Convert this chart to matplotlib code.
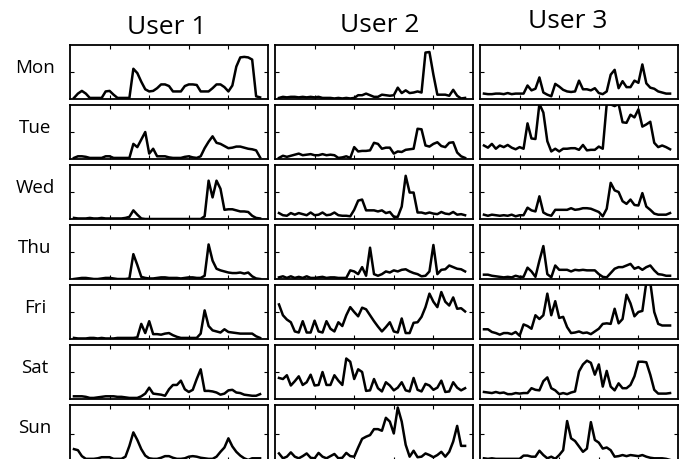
import numpy as np
import matplotlib
matplotlib.use('Agg')
import matplotlib.pyplot as plt

plt.rcParams['font.family'] = ['Open Sans', 'DejaVu Sans']

dies = ['Mon', 'Tue', 'Wed', 'Thu', 'Fri', 'Sat', 'Sun']
usuaris = ['User 1', 'User 2', 'User 3']

# User 1
mon_u1 = [0.02,0.1,0.15,0.1,0.02,0.02,0.02,0.02,0.14,0.15,0.08,0.02,0.02,0.02,0.02,0.56,0.48,0.32,0.18,0.14,0.15,0.2,0.27,0.27,0.24,0.14,0.14,0.14,0.24,0.27,0.27,0.26,0.14,0.14,0.14,0.2,0.27,0.27,0.22,0.14,0.25,0.6,0.77,0.78,0.77,0.73,0.05,0.03]
tue_u1 = [0.02,0.05,0.05,0.04,0.02,0.02,0.02,0.02,0.05,0.05,0.02,0.02,0.02,0.02,0.02,0.28,0.22,0.36,0.5,0.1,0.19,0.05,0.05,0.05,0.03,0.02,0.02,0.02,0.04,0.05,0.03,0.02,0.05,0.2,0.32,0.42,0.3,0.28,0.24,0.2,0.21,0.23,0.23,0.21,0.19,0.18,0.16,0.03]
wed_u1 = [0.02,0.01,0.01,0.01,0.02,0.01,0.01,0.02,0.01,0.01,0.01,0.01,0.01,0.02,0.04,0.16,0.08,0.01,0,0,0,0,0,0,0,0,0,0,0,0,0,0,0,0.05,0.71,0.4,0.71,0.56,0.17,0.18,0.18,0.16,0.14,0.14,0.13,0.06,0.02,0.01]
thu_u1 = [0.0,0.01,0.02,0.02,0.01,0.0,0.0,0.01,0.02,0.02,0.01,0.0,0.0,0.0,0.01,0.46,0.26,0.04,0.02,0.01,0.01,0.02,0.03,0.03,0.02,0.02,0.02,0.01,0.02,0.03,0.03,0.02,0.02,0.06,0.64,0.34,0.19,0.16,0.14,0.12,0.11,0.11,0.12,0.1,0.12,0.05,0.01,0.0]
fri_u1 = [0.02,0.01,0.01,0.01,0.02,0.02,0.01,0.02,0.01,0.01,0.01,0.02,0.02,0.02,0.02,0.02,0.03,0.28,0.11,0.33,0.09,0.09,0.08,0.1,0.11,0.07,0.04,0.02,0.02,0.02,0.02,0.02,0.1,0.53,0.24,0.16,0.14,0.12,0.18,0.13,0.12,0.11,0.1,0.1,0.1,0.1,0.05,0.02]
sat_u1 = [0.05,0.05,0.05,0.04,0.02,0.02,0.03,0.04,0.05,0.05,0.05,0.04,0.04,0.03,0.02,0.02,0.02,0.05,0.1,0.21,0.1,0.09,0.08,0.06,0.18,0.26,0.26,0.34,0.18,0.13,0.17,0.37,0.55,0.15,0.15,0.14,0.12,0.08,0.1,0.16,0.17,0.12,0.11,0.08,0.07,0.06,0.06,0.09]
sun_u1 = [0.22,0.2,0.09,0.04,0.04,0.04,0.05,0.07,0.07,0.07,0.04,0.04,0.04,0.08,0.28,0.53,0.39,0.22,0.1,0.05,0.04,0.04,0.06,0.09,0.09,0.06,0.04,0.04,0.05,0.08,0.09,0.08,0.06,0.05,0.04,0.04,0.08,0.17,0.25,0.42,0.27,0.17,0.1,0.05,0.02,0.05,0.05,0.05]

# User 2
mon_u2 = [0.02,0.04,0.03,0.04,0.04,0.03,0.04,0.03,0.04,0.03,0.04,0.02,0.02,0.02,0.01,0.02,0.01,0.02,0.01,0.02,0.07,0.07,0.1,0.07,0.04,0.04,0.08,0.07,0.06,0.07,0.21,0.11,0.16,0.11,0.12,0.14,0.12,0.86,0.87,0.45,0.08,0.08,0.08,0.06,0.17,0.06,0.01,0.02]
tue_u2 = [0.02,0.06,0.04,0.06,0.08,0.1,0.07,0.08,0.09,0.07,0.07,0.09,0.07,0.08,0.07,0.02,0.03,0.05,0.02,0.22,0.14,0.15,0.15,0.16,0.3,0.28,0.19,0.21,0.21,0.1,0.14,0.13,0.17,0.18,0.19,0.56,0.55,0.25,0.23,0.28,0.31,0.24,0.22,0.3,0.31,0.12,0.05,0.02]
wed_u2 = [0.11,0.07,0.06,0.11,0.08,0.11,0.09,0.07,0.12,0.07,0.08,0.12,0.07,0.08,0.12,0.07,0.06,0.06,0.05,0.17,0.34,0.36,0.16,0.16,0.16,0.14,0.16,0.11,0.13,0.04,0.04,0.23,0.8,0.49,0.49,0.12,0.12,0.1,0.12,0.1,0.09,0.13,0.1,0.09,0.13,0.08,0.09,0.07]
thu_u2 = [0.03,0.05,0.02,0.05,0.02,0.04,0.02,0.05,0.02,0.02,0.03,0.04,0.02,0.03,0.03,0.02,0.02,0.02,0.16,0.14,0.09,0.22,0.06,0.58,0.09,0.06,0.09,0.14,0.12,0.16,0.14,0.17,0.18,0.14,0.11,0.09,0.05,0.06,0.14,0.63,0.09,0.17,0.18,0.25,0.22,0.19,0.18,0.14]
fri_u2 = [0.64,0.44,0.36,0.31,0.14,0.12,0.33,0.12,0.12,0.34,0.14,0.12,0.33,0.19,0.14,0.31,0.24,0.44,0.59,0.5,0.42,0.58,0.55,0.44,0.33,0.23,0.14,0.22,0.31,0.14,0.12,0.38,0.11,0.11,0.3,0.31,0.41,0.59,0.84,0.69,0.59,0.87,0.69,0.62,0.77,0.56,0.57,0.51]
sat_u2 = [0.39,0.37,0.44,0.25,0.33,0.42,0.26,0.31,0.45,0.25,0.26,0.5,0.26,0.26,0.44,0.34,0.26,0.75,0.69,0.37,0.55,0.5,0.15,0.16,0.37,0.2,0.14,0.31,0.25,0.16,0.21,0.31,0.16,0.14,0.39,0.17,0.14,0.28,0.25,0.17,0.21,0.34,0.13,0.14,0.31,0.21,0.16,0.2]
sun_u2 = [0.14,0.05,0.08,0.16,0.08,0.05,0.09,0.14,0.06,0.05,0.15,0.08,0.05,0.09,0.13,0.05,0.06,0.15,0.09,0.08,0.25,0.41,0.45,0.48,0.59,0.59,0.56,0.8,0.73,0.51,0.99,0.73,0.3,0.08,0.19,0.07,0.08,0.14,0.11,0.07,0.11,0.17,0.08,0.17,0.36,0.65,0.28,0.28]

# User 3
mon_u3 = [0.1,0.09,0.09,0.1,0.1,0.09,0.11,0.09,0.1,0.1,0.1,0.25,0.16,0.19,0.4,0.12,0.08,0.05,0.28,0.23,0.17,0.14,0.13,0.14,0.34,0.18,0.18,0.16,0.2,0.11,0.09,0.14,0.45,0.54,0.2,0.33,0.22,0.22,0.34,0.3,0.64,0.29,0.21,0.19,0.14,0.12,0.1,0.1]
tue_u3 = [0.25,0.21,0.28,0.19,0.25,0.22,0.26,0.21,0.18,0.22,0.19,0.66,0.38,0.37,1.02,0.86,0.33,0.14,0.19,0.14,0.19,0.19,0.2,0.2,0.17,0.26,0.16,0.17,0.17,0.23,0.19,1.02,1.01,0.98,1.02,0.68,0.67,0.82,0.77,0.92,0.6,0.64,0.69,0.3,0.22,0.25,0.22,0.18]
wed_u3 = [0.08,0.06,0.08,0.07,0.06,0.07,0.06,0.08,0.05,0.07,0.07,0.21,0.16,0.14,0.42,0.12,0.08,0.06,0.17,0.17,0.17,0.17,0.2,0.17,0.18,0.2,0.2,0.19,0.16,0.13,0.05,0.19,0.67,0.53,0.5,0.33,0.28,0.36,0.26,0.25,0.48,0.23,0.17,0.1,0.08,0.08,0.08,0.11]
thu_u3 = [0.08,0.08,0.06,0.05,0.04,0.03,0.04,0.03,0.06,0.04,0.04,0.21,0.14,0.04,0.34,0.61,0.09,0.03,0.25,0.17,0.17,0.17,0.14,0.17,0.16,0.17,0.16,0.16,0.16,0.09,0.04,0.03,0.11,0.19,0.22,0.22,0.25,0.28,0.19,0.22,0.17,0.22,0.25,0.16,0.09,0.08,0.06,0.06]
fri_u3 = [0.18,0.18,0.13,0.11,0.08,0.11,0.11,0.09,0.13,0.06,0.27,0.24,0.19,0.44,0.37,0.44,0.84,0.44,0.7,0.39,0.41,0.22,0.11,0.12,0.14,0.11,0.12,0.09,0.14,0.19,0.28,0.29,0.28,0.56,0.29,0.37,0.82,0.66,0.42,0.5,0.52,1.05,1.05,0.5,0.28,0.25,0.25,0.25]
sat_u3 = [0.13,0.12,0.11,0.13,0.11,0.12,0.09,0.09,0.11,0.1,0.11,0.11,0.2,0.17,0.16,0.33,0.4,0.2,0.16,0.09,0.11,0.09,0.12,0.14,0.51,0.64,0.71,0.67,0.45,0.64,0.23,0.52,0.23,0.16,0.29,0.2,0.2,0.26,0.42,0.69,0.69,0.68,0.45,0.17,0.1,0.1,0.1,0.11]
sun_u3 = [0.05,0.04,0.05,0.04,0.04,0.04,0.04,0.04,0.04,0.04,0.1,0.1,0.08,0.08,0.19,0.11,0.05,0.08,0.04,0.11,0.2,0.74,0.42,0.37,0.27,0.17,0.23,0.72,0.39,0.34,0.23,0.25,0.2,0.08,0.09,0.11,0.09,0.11,0.1,0.09,0.11,0.08,0.06,0.05,0.05,0.05,0.04,0.02]

dades = [[mon_u1, mon_u2, mon_u3],
         [tue_u1, tue_u2, tue_u3],
         [wed_u1, wed_u2, wed_u3],
         [thu_u1, thu_u2, thu_u3],
         [fri_u1, fri_u2, fri_u3],
         [sat_u1, sat_u2, sat_u3],
         [sun_u1, sun_u2, sun_u3]]

W, H = 683.0, 459.0
fig = plt.figure(figsize=(W / 100, H / 100), dpi=100)

# layout in pixels (top-left origin)
col_x = [70, 275, 480]
ample = 198
fila_y0 = 45
pas = 60
alt = 54

for i, dia in enumerate(dies):
    top = fila_y0 + pas * i
    h = alt if i < 6 else 56
    for j in range(3):
        ax = fig.add_axes([col_x[j] / W, 1 - (top + h) / H, ample / W, h / H])
        y = dades[i][j]
        x = np.arange(1, len(y) + 1)
        ax.plot(x, y, color='black', lw=1.8)
        ax.set_xlim(0, 50)
        ax.set_ylim(0, 1 if i < 6 else 56 / 54.0)
        ax.set_xticks([10, 20, 30, 40])
        ax.set_yticks([0.5])
        ax.tick_params(direction='in', top=True, right=True, length=3, width=0.8,
                       labelbottom=False, labelleft=False)
        for s in ax.spines.values():
            s.set_linewidth(1.3)
    fig.text(35 / W, 1 - (top + alt / 2 - 4) / H, dia, ha='center', va='center', fontsize=13.5)

tit_x = [167, 380, 568]
tit_y = [28, 25, 22]
for j, u in enumerate(usuaris):
    fig.text(tit_x[j] / W, 1 - tit_y[j] / H, u, ha='center', va='center', fontsize=19)

fig.savefig('out.png', dpi=100)
